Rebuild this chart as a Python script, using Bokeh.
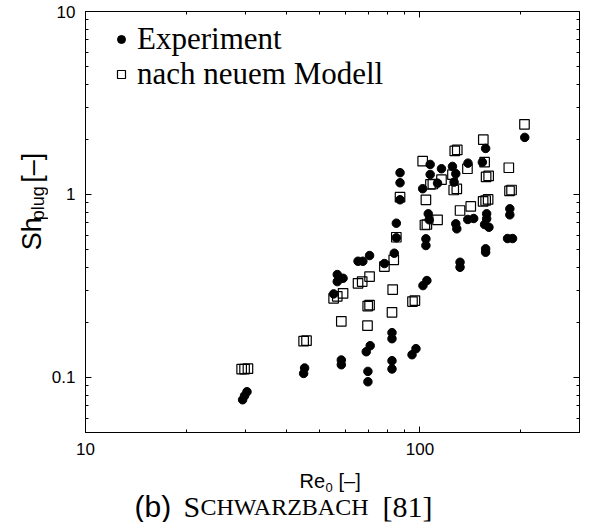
import math
from bokeh.plotting import figure
from bokeh.layouts import column, row
from bokeh.models import (ColumnDataSource, Range1d, LogAxis, FixedTicker,
                          CustomJSTickFormatter, Label, Legend, LegendItem)
from bokeh.embed import file_html
from bokeh.resources import INLINE

# ---------------- data ----------------
exp_re = [29.5, 29.9, 30.4, 45.2, 44.9, 58.2, 58.2, 69.1, 71.0, 69.9, 69.9,
          82.5, 82.5, 82.5, 82.5, 94.7, 97.3, 102.1, 104.9, 104.2, 104.2,
          131.8, 131.8, 157.2, 157.2, 182.8, 189.2, 55.2, 56.6, 58.9, 56.6,
          65.3, 67.5, 70.7, 78.3, 83.8, 85.0, 85.0, 87.2, 87.2, 87.2, 101.9,
          107.3, 107.3, 112.9, 116.0, 125.1, 128.0, 126.5, 139.2, 153.7,
          157.2, 205.8, 185.7, 185.7, 105.9, 106.6, 139.0, 144.8, 158.3,
          158.3, 156.1, 160.8, 128.0, 128.9]
exp_sh = [0.0755, 0.0794, 0.0835, 0.1126, 0.1052, 0.1245, 0.1173, 0.1382,
          0.1491, 0.1079, 0.0947, 0.1757, 0.1628, 0.1234, 0.1112, 0.1331,
          0.1436, 0.3176, 0.3383, 0.5722, 0.5258, 0.426, 0.400, 0.5045,
          0.4833, 0.5743, 0.5743, 0.2861, 0.3649, 0.3482, 0.334, 0.4314,
          0.4314, 0.4636, 0.4191, 0.4773, 0.6965, 0.5794, 1.315, 1.159,
          0.9354, 1.075, 1.459, 1.286, 1.153, 1.382, 1.423, 1.298, 1.168,
          1.483, 1.502, 1.785, 2.051, 0.835, 0.774, 0.784, 0.727, 0.730,
          0.739, 0.784, 0.736, 0.685, 0.662, 0.691, 0.649]

mod_re = [29.3, 29.9, 30.6, 44.9, 45.8, 55.2, 56.6, 58.9, 58.2, 65.3, 67.2,
          70.7, 69.7, 69.8, 70.7, 78.3, 82.9, 82.5, 83.5, 85.0, 87.2, 95.0,
          96.6, 101.9, 103.5, 104.9, 104.2, 107.5, 109.3, 112.9, 116.0,
          125.1, 126.2, 128.9, 127.1, 129.3, 131.8, 138.7, 141.9, 154.7,
          156.1, 154.5, 157.2, 159.9, 157.7, 160.5, 184.4, 185.3, 187.9,
          205.4]
mod_sh = [0.1109, 0.1110, 0.1116, 0.1578, 0.1588, 0.2706, 0.2776, 0.2883,
          0.2025, 0.3268, 0.334, 0.3556, 0.1919, 0.2453, 0.2484, 0.4036,
          0.302, 0.2268, 0.4391, 0.5838, 0.9665, 0.2597, 0.263, 1.521,
          0.681, 0.685, 0.935, 1.134, 1.141, 0.727, 1.204, 1.282, 1.058,
          1.072, 1.730, 1.752, 0.817, 1.382, 0.860, 1.993, 1.502, 0.916,
          0.927, 0.939, 1.247, 1.263, 1.400, 1.045, 1.058, 2.416]

x_major = [10, 100]
x_minor = [20, 30, 40, 50, 60, 70, 80, 90, 200, 300]
y_major = [0.1, 1, 10]
y_minor = [0.05, 0.06, 0.07, 0.08, 0.09, 0.2, 0.3, 0.4, 0.5, 0.6, 0.7, 0.8,
           0.9, 2, 3, 4, 5, 6, 7, 8, 9]
x_limits = (10, 300)
y_limits = (0.05, 10)

legend_labels = ["Experiment", "nach neuem Modell"]
# -----------------------------------------------------------------

W, H = 593, 522
LEFT_W = 48          # strip holding the y-axis title
MAIN_H = 462         # main plot height; the rest is the x title + caption
FL, FR, FT, FB = 83, 579, 11, 432   # frame edges in page pixels

p = figure(width=W - LEFT_W, height=MAIN_H, x_axis_type="log",
           y_axis_type="log", title=None,
           x_range=Range1d(*x_limits), y_range=Range1d(*y_limits),
           output_backend="svg", toolbar_location=None,
           min_border_left=FL - LEFT_W, min_border_right=W - FR,
           min_border_top=FT, min_border_bottom=MAIN_H - FB)
p.xgrid.visible = False
p.ygrid.visible = False
p.outline_line_color = "black"
p.background_fill_color = "white"
p.border_fill_color = "white"

fmt = CustomJSTickFormatter(code="return tick.toString();")
blank = CustomJSTickFormatter(code="return '';")


def style_axis(ax, major, minor, labels):
    ax.ticker = FixedTicker(ticks=major, minor_ticks=minor)
    ax.major_tick_in = 6
    ax.major_tick_out = 0
    ax.minor_tick_in = 3
    ax.minor_tick_out = 0
    ax.axis_line_color = "black"
    ax.major_tick_line_color = "black"
    ax.minor_tick_line_color = "black"
    if labels:
        ax.formatter = fmt
        ax.major_label_text_font = "Liberation Sans"
        ax.major_label_text_font_size = "17px"
        ax.major_label_text_color = "black"
    else:
        ax.formatter = blank
        ax.major_label_text_font_size = "1px"
        ax.major_label_standoff = 0


style_axis(p.xaxis[0], x_major, x_minor, True)
p.xaxis[0].major_label_standoff = 10
style_axis(p.yaxis[0], y_major, y_minor, True)
p.yaxis[0].major_label_standoff = 10

top_ax = LogAxis()
style_axis(top_ax, x_major, x_minor, False)
p.add_layout(top_ax, "above")
right_ax = LogAxis()
style_axis(right_ax, y_major, y_minor, False)
p.add_layout(right_ax, "right")

src_e = ColumnDataSource(dict(x=exp_re, y=exp_sh))
src_m = ColumnDataSource(dict(x=mod_re, y=mod_sh))
r_e = p.scatter("x", "y", source=src_e, marker="circle", size=8.5,
                fill_color="black", line_color="black")
r_m = p.scatter("x", "y", source=src_m, marker="square", size=9.5,
                fill_alpha=0, line_color="black", line_width=1.2)

# two one-row legends so that the row pitch can be set freely
LEG_FONT = 31
ROW_H = 35          # approximate height of one legend row at this font size
for lbl, rend, row_center in ((legend_labels[0], r_e, 39),
                              (legend_labels[1], r_m, 74)):
    top = row_center - ROW_H / 2
    leg = Legend(items=[LegendItem(label=lbl, renderers=[rend])],
                 location=(20, (FB - FT) - (top - FT) - ROW_H),
                 margin=0, padding=0, spacing=0,
                 glyph_width=32, glyph_height=20, label_standoff=0,
                 label_height=20,
                 border_line_alpha=0, background_fill_alpha=0,
                 label_text_font="Liberation Serif",
                 label_text_font_size=f"{LEG_FONT}px",
                 label_text_color="black")
    p.add_layout(leg)


def text_strip(w, h):
    f = figure(width=w, height=h, x_range=Range1d(0, w), y_range=Range1d(h, 0),
               title=None, output_backend="svg", toolbar_location=None,
               x_axis_location=None, y_axis_location=None,
               min_border=0, outline_line_color=None)
    f.xgrid.visible = False
    f.ygrid.visible = False
    f.background_fill_color = "white"
    f.border_fill_color = "white"
    return f


def add_text(fig, txt, x, y, size, font="Liberation Sans", angle=0.0):
    fig.add_layout(Label(x=x, y=y, text=txt, angle=angle,
                         text_font=font, text_font_size=f"{size}px",
                         text_color="black", text_align="left",
                         text_baseline="middle"))


# y-axis title  Sh_plug [–]   (strip spans page x 0..48, y 0..462)
ylab = text_strip(LEFT_W, MAIN_H)
rot = math.pi / 2
add_text(ylab, "Sh", 31, 262, 27, angle=rot)
add_text(ylab, "plug", 37, 229, 18, angle=rot)
add_text(ylab, "[–]", 31, 188, 27, angle=rot)

# x-axis title and caption  (strip spans page y 462..522)
bot = text_strip(W, H - MAIN_H)
add_text(bot, "Re", 299, 18, 20)
add_text(bot, "0", 325, 25, 13)
add_text(bot, "[–]", 338, 18, 20)

add_text(bot, "(b)", 134, 44, 30)
add_text(bot, "S", 183, 44, 30, font="Liberation Serif")
add_text(bot, "CHWARZBACH", 200, 44, 24, font="Liberation Serif")
add_text(bot, "[81]", 382, 44, 30, font="Liberation Serif")

layout = column(row(ylab, p), bot)
open("out.html", "w").write(file_html(layout, INLINE))
